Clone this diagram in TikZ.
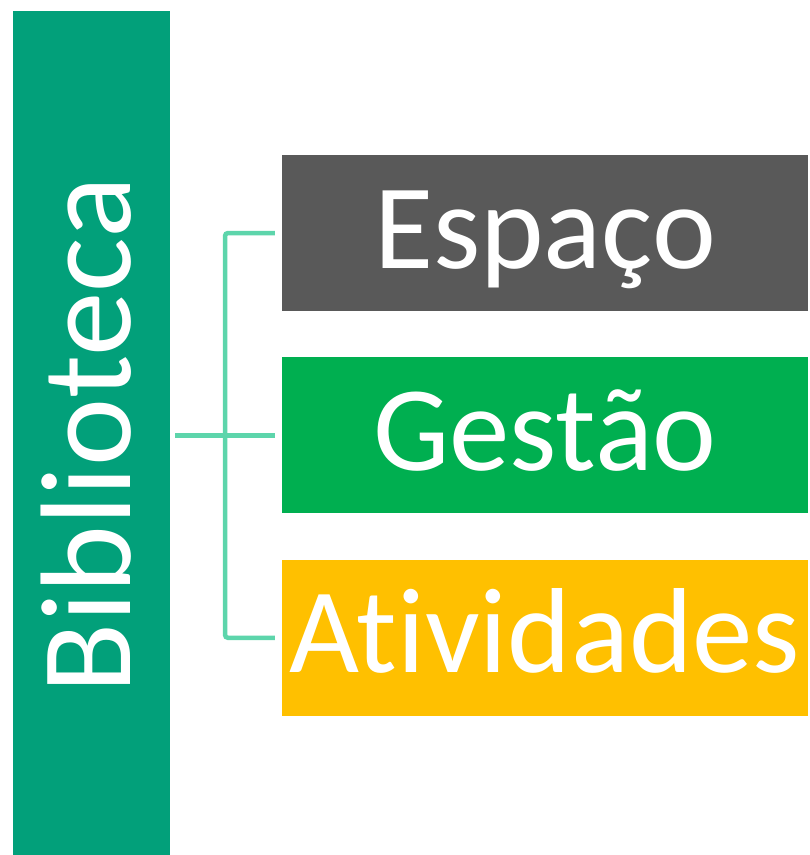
\documentclass[tikz,border=0pt]{standalone}
\usepackage{fontspec}
\setmainfont{Carlito}[Ligatures=NoCommon]
\usetikzlibrary{positioning}
\definecolor{barteal}{HTML}{02A07A}
\definecolor{boxgray}{HTML}{595959}
\definecolor{boxgreen}{HTML}{00AF50}
\definecolor{boxgold}{HTML}{FFC000}
\definecolor{linkteal}{HTML}{5DD5AB}
\tikzset{
  item/.style={fill=#1, inner sep=0pt, minimum width=526pt, minimum height=156pt,
    text=white, font=\fontsize{121pt}{121pt}\selectfont,
    text height=78pt, text depth=8pt},
  link/.style={draw=linkteal, line width=4.5pt, rounded corners=3pt}
}
\begin{document}
\begin{tikzpicture}[x=1pt,y=-1pt]
\useasboundingbox (0,0) rectangle (810,855);

    % the tall bar on the left
    \fill[barteal] (13,11) rectangle (170,855);
    \node[inner sep=0pt, minimum width=157pt, minimum height=844pt] (bib) at (91.5,433) {};
    \node[rotate=90, anchor=base, text=white, inner sep=0pt,
      font=\fontsize{129pt}{129pt}\selectfont] (bibtext) at (130,435) {Biblioteca};

    % the three boxes
    \node[item=boxgray] (espaco) at (545,233) {Espaço};
    \node[item=boxgreen, below=46pt of espaco] (gestao) {Gestão};
    \node[item=boxgold, below=46pt of gestao] (atividades) {Atividades};

    % bracket
    \coordinate (spine) at (225,0);
    \draw[link] ([xshift=5pt]bib.east |- gestao.west) -- ([xshift=-7pt]gestao.west);
    \draw[link] ([xshift=-7pt]espaco.west) -- (espaco.west -| spine)
      -- (atividades.west -| spine) -- ([xshift=-7pt]atividades.west);
\end{tikzpicture}
\end{document}
